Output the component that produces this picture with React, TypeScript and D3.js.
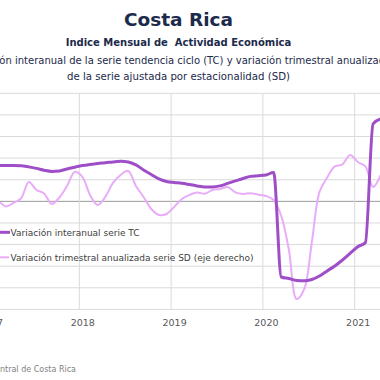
import React from "react";
import * as d3 from "d3";

// Monthly observations from Dec 2016 to Apr 2021
const startYear = 2016;
const startMonth = 11; // December (0-based)

// Variación interanual serie TC (left axis, %)
const tcValues = [
  3.3, 3.32, 3.31, 3.31, 3.31, 3.3, 3.19, 3.05, 2.88, 2.77, 2.81, 3.0, 3.16,
  3.31, 3.42, 3.51, 3.57, 3.65, 3.71, 3.65, 3.37, 2.91, 2.49, 2.07, 1.84,
  1.75, 1.68, 1.56, 1.43, 1.33, 1.33, 1.43, 1.66, 1.89, 2.12, 2.31, 2.37,
  2.44, 2.68, -7.0, -7.14, -7.32, -7.35, -7.23, -6.91, -6.44, -5.98, -5.43,
  -4.81, -4.2, -3.82, 7.17, 7.63,
];

// Variación trimestral anualizada serie SD (right axis, %)
const sdValues = [
  2.6, 1.48, 0.09, -1.18, -0.37, 0.72, 4.49, 2.64, 1.83, -0.6, 0.9, 3.56, 6.81,
  5.65, 1.48, -0.83, 1.02, 4.26, 6.11, 7.04, 3.56, 1.02, -1.76, -3.15, -2.92,
  -1.3, 0.56, 1.48, 2.06, 1.76, 2.64, 2.87, 3.33, 2.06, 1.71, 1.88, 1.55,
  1.25, 0.32, -3.38, -11.25, -22.59, -20.28, -9.4, 2.18, 5.53, 8.08, 8.54,
  10.74, 9.12, 8.08, 3.33, 6.11,
];

const yearTicks = [2017, 2018, 2019, 2020, 2021];
const leftTicks = [-10, -8, -6, -4, -2, 0, 2, 4, 6, 8, 10];

const title = "Costa Rica";
const subtitle = "Indice Mensual de  Actividad Económica";
const line3 =
  "Variación interanual de la serie tendencia ciclo (TC) y variación trimestral anualizada";
const line4 = "de la serie ajustada por estacionalidad (SD)";
const legendTC = "Variación interanual serie TC";
const legendSD = "Variación trimestral anualizada serie SD (eje derecho)";
const source = "Fuente: Banco Central de Costa Rica";

const W = 380;
const H = 380;
const TOP = 93.3;
const BOTTOM = 309.4;
const FONT = "'DejaVu Sans', sans-serif";
const NAVY = "#1c2a4b";
const TC_COLOR = "#9e4fc8";
const SD_COLOR = "#e8acf8";

export default function App() {
  const x = d3.scaleLinear().domain([2018, 2021]).range([79.3, 354.7]);
  const yL = d3.scaleLinear().domain([-10, 10]).range([BOTTOM, TOP]);
  const yR = d3.scaleLinear().domain([-25, 25]).range([BOTTOM, TOP]);

  const pos = (i: number) => {
    const m = startMonth + i;
    const yr = startYear + Math.floor(m / 12);
    const mo = m % 12;
    return x(yr + (mo + 0.4) / 12);
  };

  const tcLine = d3
    .line<number>()
    .x((_, i) => pos(i))
    .y((d) => yL(d))
    .curve(d3.curveMonotoneX);
  const sdLine = d3
    .line<number>()
    .x((_, i) => pos(i))
    .y((d) => yR(d))
    .curve(d3.curveCatmullRom.alpha(0.5));

  return (
    <svg
      width={W}
      height={H}
      style={{ position: "absolute", left: 0, top: 0, background: "#fff" }}
    >
      <rect x={0} y={0} width={W} height={H} fill="#fff" />
      <text x={178.5} y={26} textAnchor="middle" fontFamily={FONT} fontWeight="bold" fontSize={18.5} fill={NAVY}>
        {title}
      </text>
      <text
        x={178.5}
        y={46}
        textAnchor="middle"
        fontFamily={FONT}
        fontWeight="bold"
        fontSize={10}
        fill={NAVY}
        style={{ whiteSpace: "pre" }}
      >
        {subtitle}
      </text>
      <text x={178.5} y={64} textAnchor="middle" fontFamily={FONT} fontSize={10} fill={NAVY}>
        {line3}
      </text>
      <text x={178.5} y={80} textAnchor="middle" fontFamily={FONT} fontSize={10.2} fill={NAVY}>
        {line4}
      </text>

      {leftTicks.map((t) => (
        <line
          key={"h" + t}
          x1={0}
          x2={W}
          y1={yL(t)}
          y2={yL(t)}
          stroke={t === 0 ? "#9a9a9a" : "#dadada"}
          strokeWidth={1}
        />
      ))}
      {yearTicks.map((t) => (
        <line key={"v" + t} x1={x(t)} x2={x(t)} y1={TOP} y2={BOTTOM} stroke="#dadada" strokeWidth={1} />
      ))}
      {yearTicks.map((t) => (
        <text key={"l" + t} x={x(t) + 3.5} y={326} textAnchor="middle" fontFamily={FONT} fontSize={9.5} fill="#595959">
          {t}
        </text>
      ))}

      <path d={sdLine(sdValues) || ""} fill="none" stroke={SD_COLOR} strokeWidth={2} />
      <path d={tcLine(tcValues) || ""} fill="none" stroke={TC_COLOR} strokeWidth={3} />

      <line x1={0} x2={10} y1={232.3} y2={232.3} stroke={TC_COLOR} strokeWidth={3} />
      <text x={10.5} y={235.6} fontFamily={FONT} fontSize={9} fill="#404040">
        {legendTC}
      </text>
      <line x1={0} x2={9} y1={257.3} y2={257.3} stroke={SD_COLOR} strokeWidth={2} />
      <text x={10.5} y={260.6} fontFamily={FONT} fontSize={9} fill="#404040">
        {legendSD}
      </text>

      <text x={76} y={372} textAnchor="end" fontFamily={FONT} fontSize={8} fill="#7f7f7f">
        {source}
      </text>
    </svg>
  );
}
